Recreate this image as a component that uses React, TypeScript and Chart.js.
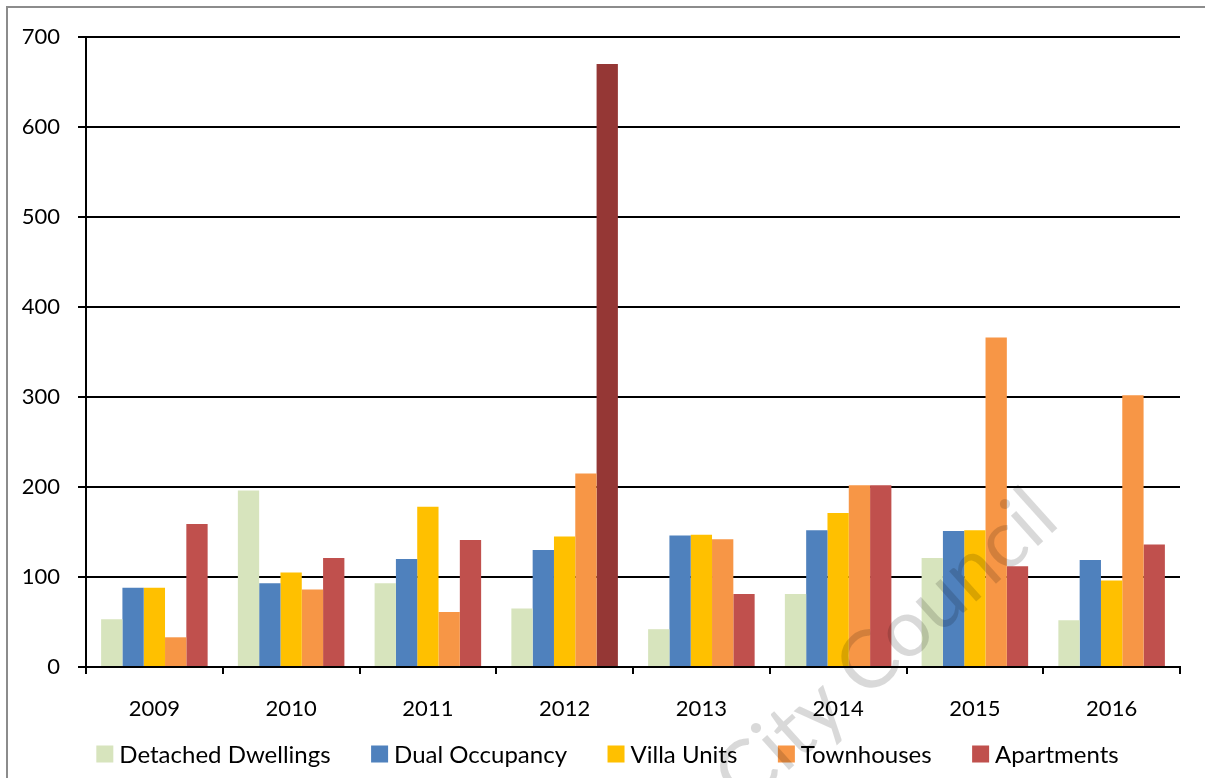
import React, { useEffect, useRef } from "react";
import { Chart, registerables } from "chart.js";

Chart.register(...registerables);

const years = ["2009", "2010", "2011", "2012", "2013", "2014", "2015", "2016"];
const detachedDwellings = [53, 196, 93, 65, 42, 81, 121, 52];
const dualOccupancy = [88, 93, 120, 130, 146, 152, 151, 119];
const villaUnits = [88, 105, 178, 145, 147, 171, 152, 96];
const townhouses = [33, 86, 61, 215, 142, 202, 366, 302];
const apartments = [159, 121, 141, 670, 81, 202, 112, 136];
const apartmentColors = ["#C0504D", "#C0504D", "#C0504D", "#953735", "#C0504D", "#C0504D", "#C0504D", "#C0504D"];
const watermarkText = "City Council";

const FONT = "Lato";

const framePlugin = {
  id: "frame",
  beforeDraw(chart: any) {
    const ctx = chart.ctx;
    ctx.save();
    ctx.fillStyle = "#ffffff";
    ctx.fillRect(0, 0, chart.width, chart.height);
    ctx.strokeStyle = "#8c8c8c";
    ctx.lineWidth = 2;
    ctx.strokeRect(7, 7, chart.width + 20, chart.height + 20);
    ctx.restore();
  },
  afterDraw(chart: any) {
    const ctx = chart.ctx;
    // legend
    ctx.save();
    ctx.font = `24px ${FONT}`;
    ctx.textBaseline = "middle";
    ctx.textAlign = "left";
    const items = chart.data.datasets.map((ds: any) => ({
      text: ds.label as string,
      color: Array.isArray(ds.backgroundColor) ? ds.backgroundColor[0] : ds.backgroundColor,
    }));
    const box = 17;
    const gapText = 6;
    const gapItem = 40.5;
    const widths = items.map((it: any) => box + gapText + ctx.measureText(it.text).width);
    const total = widths.reduce((a: number, b: number) => a + b, 0) + gapItem * (items.length - 1);
    let x = chart.width / 2 + 5 - total / 2;
    const y = chart.height - 24;
    items.forEach((it: any, i: number) => {
      ctx.fillStyle = it.color;
      ctx.fillRect(x, y - box / 2, box, box);
      ctx.fillStyle = "#000";
      ctx.fillText(it.text, x + box + gapText, y + 1);
      x += widths[i] + gapItem;
    });
    ctx.restore();

    // watermark
    ctx.save();
    ctx.translate(886, 648);
    ctx.rotate((-42 * Math.PI) / 180);
    ctx.font = `80px ${FONT}`;
    ctx.fillStyle = "rgba(0,0,0,0.15)";
    ctx.textAlign = "center";
    ctx.textBaseline = "middle";
    ctx.fillText(watermarkText, 0, 0);
    ctx.restore();
  },
};

export default function App() {
  const ref = useRef<HTMLCanvasElement | null>(null);

  useEffect(() => {
    if (!ref.current) return;
    const chart = new Chart(ref.current, {
      type: "bar",
      data: {
        labels: years,
        datasets: [
          { label: "Detached Dwellings", data: detachedDwellings, backgroundColor: "#D7E4BD" },
          { label: "Dual Occupancy", data: dualOccupancy, backgroundColor: "#4F81BD" },
          { label: "Villa Units", data: villaUnits, backgroundColor: "#FFC000" },
          { label: "Townhouses", data: townhouses, backgroundColor: "#F79646" },
          { label: "Apartments", data: apartments, backgroundColor: apartmentColors },
        ],
      },
      options: {
        responsive: false,
        animation: false,
        devicePixelRatio: 1,
        layout: { padding: { left: 0, right: 25, top: 37, bottom: 51 } },
        datasets: { bar: { categoryPercentage: 0.779, barPercentage: 1, borderWidth: 0 } },
        plugins: {
          tooltip: { enabled: false },
          legend: { display: false },
        },
        scales: {
          x: {
            afterFit: (scale: any) => {
              scale.height = 60;
            },
            grid: {
              drawOnChartArea: false,
              drawTicks: true,
              tickLength: 7,
              color: "#000",
              lineWidth: 2,
              offset: true,
            },
            border: { display: true, color: "#000", width: 2 },
            ticks: { font: { family: FONT, size: 22 }, color: "#000", padding: 22 },
          },
          y: {
            min: 0,
            max: 700,
            afterFit: (scale: any) => {
              scale.width = 86;
            },
            ticks: { stepSize: 100, font: { family: FONT, size: 22 }, color: "#000", padding: 18 },
            grid: { color: "#000", lineWidth: 2, tickLength: 8, drawTicks: true },
            border: { display: true, color: "#000", width: 2 },
          },
        },
      },
      plugins: [framePlugin],
    });
    return () => chart.destroy();
  }, []);

  return (
    <div style={{ position: "absolute", left: 0, top: 0, width: 1205, height: 778 }}>
      <canvas ref={ref} width={1205} height={778} style={{ display: "block" }} />
    </div>
  );
}
